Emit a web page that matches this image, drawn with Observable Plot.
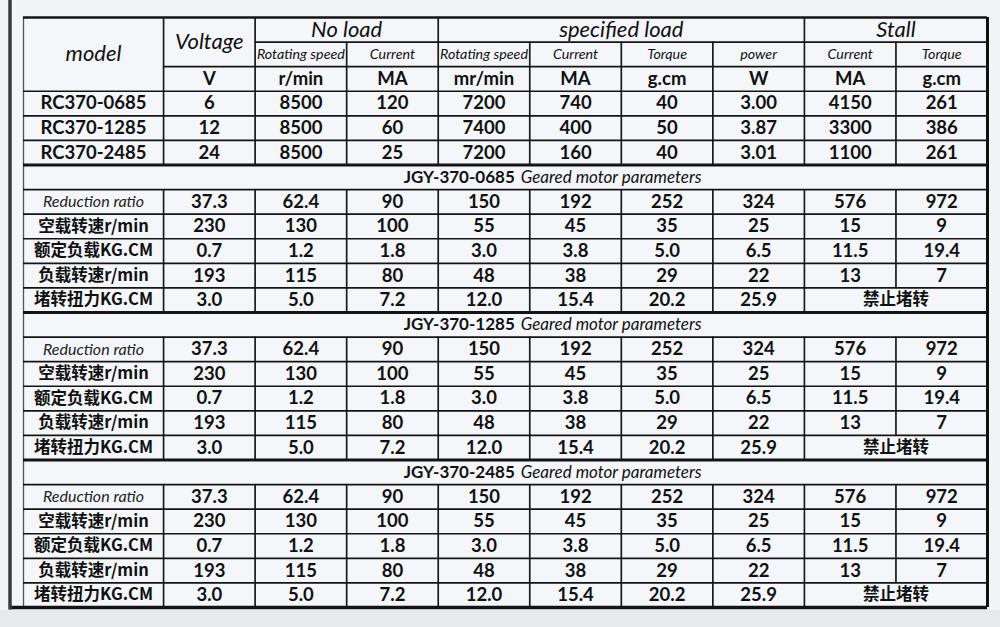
<!DOCTYPE html>
<html><head><meta charset="utf-8">
<script src="https://cdn.jsdelivr.net/npm/d3@7"></script>
<script src="https://cdn.jsdelivr.net/npm/@observablehq/plot@0.6"></script>
<style>
html,body{margin:0;padding:0;background:#f2f4f6;}
#chart svg{display:block}
</style></head><body><div id="chart"></div>
<script>
// ---- data ----
const groupHeaders = ["No load", "specified load", "Stall"];
const subHeaders = ["Rotating speed","Current","Rotating speed","Current","Torque","power","Current","Torque"];
const units = ["V","r/min","MA","mr/min","MA","g.cm","W","MA","g.cm"];
const models = ["RC370-0685","RC370-1285","RC370-2485"];
const voltage = ["6","12","24"];
const noLoadSpeed = ["8500","8500","8500"];
const noLoadCurrent = ["120","60","25"];
const loadSpeed = ["7200","7400","7200"];
const loadCurrent = ["740","400","160"];
const loadTorque = ["40","50","40"];
const loadPower = ["3.00","3.87","3.01"];
const stallCurrent = ["4150","3300","1100"];
const stallTorque = ["261","386","261"];

const gearedModels = ["JGY-370-0685","JGY-370-1285","JGY-370-2485"];
const gearedSuffix = "Geared motor parameters";
const paramLabels = ["Reduction ratio","空载转速r/min","额定负载KG.CM","负载转速r/min","堵转扭力KG.CM"];
const reductionRatio = ["37.3","62.4","90","150","192","252","324","576","972"];
const noLoadRpm = ["230","130","100","55","45","35","25","15","9"];
const ratedLoad = ["0.7","1.2","1.8","3.0","3.8","5.0","6.5","11.5","19.4"];
const loadRpm = ["193","115","80","48","38","29","22","13","7"];
const stallTorqueKg = ["3.0","5.0","7.2","12.0","15.4","20.2","25.9"];
const stallForbidden = "禁止堵转";

// ---- layout structure ----
const colWeights = [1.53,1,1,1,1,1,1,1,1,1];
const edges = [0];
colWeights.forEach(w => edges.push(edges[edges.length-1] + w));
const total = edges[edges.length-1];
const nRows = 24;
const mid = (a,b) => (edges[a] + edges[b]) / 2;
const W = 1000, H = 627, mL = 23, mR = 13, mT = 17, mB = 20;
const unitPx = (W - mL - mR) / total;

const texts = [];
const T = (x, y, t, k) => texts.push({x, y, t, k});

// header
T(mid(0,1), 1.5, "model", "big");
T(mid(1,2), 1.0, "Voltage", "big");
const groupSpans = [[2,4],[4,8],[8,10]];
groupHeaders.forEach((g,i) => T(mid(groupSpans[i][0], groupSpans[i][1]), 0.5, g, "big"));
subHeaders.forEach((s,i) => T(mid(i+2,i+3), 1.5, s, "small"));
units.forEach((u,i) => T(mid(i+1,i+2), 2.5, u, "val"));

const motorCols = [voltage,noLoadSpeed,noLoadCurrent,loadSpeed,loadCurrent,loadTorque,loadPower,stallCurrent,stallTorque];
models.forEach((m,r) => {
  T(mid(0,1), 3.5 + r, m, "val");
  motorCols.forEach((col,c) => T(mid(c+1,c+2), 3.5 + r, col[r], "val"));
});

const gearRows = [reductionRatio, noLoadRpm, ratedLoad, loadRpm, stallTorqueKg];
gearedModels.forEach((g,s) => {
  const r0 = 6 + 6*s;
  T(edges[5], r0 + 0.5, g, "titleBold");
  T(edges[5], r0 + 0.5, gearedSuffix, "titleItal");
  paramLabels.forEach((lab,j) => {
    T(mid(0,1), r0 + 1.5 + j, lab, j === 0 ? "param" : "cjk");
    gearRows[j].forEach((v,c) => T(mid(c+1,c+2), r0 + 1.5 + j, v, "val"));
  });
  T(mid(8,10), r0 + 5.5, stallForbidden, "cjk");
});

// lines
const hLines = [];
const vLines = [];
const thick = 3, thin = 1.7;
hLines.push({y:0, x1:0, x2:total, w:2.6});
hLines.push({y:1, x1:edges[2], x2:total, w:thin});
hLines.push({y:2, x1:edges[1], x2:total, w:thin});
[3,4,5].forEach(y => hLines.push({y, x1:0, x2:total, w:thin}));
for (let s = 0; s < 3; s++) {
  const r0 = 6 + 6*s;
  hLines.push({y:r0, x1:0, x2:total, w:thick});
  for (let j = 1; j <= 5; j++) hLines.push({y:r0 + j, x1:0, x2:total, w:thin});
}
hLines.push({y:nRows, x1:-14/unitPx, x2:total, w:thick+0.5});

vLines.push({x:0, y1:0, y2:nRows, w:1.3, c:"#555"});
vLines.push({x:total, y1:0, y2:nRows, w:thick, c:"#111"});
[1,2,4,8].forEach(e => vLines.push({x:edges[e], y1:0, y2:6, w:thin, c:"#1a1a1a"}));
[3,5,6,7,9].forEach(e => vLines.push({x:edges[e], y1:1, y2:6, w:thin, c:"#1a1a1a"}));
for (let s = 0; s < 3; s++) {
  const r0 = 6 + 6*s;
  for (let e = 1; e <= 8; e++) vLines.push({x:edges[e], y1:r0+1, y2:r0+6, w:thin, c:"#1a1a1a"});
  vLines.push({x:edges[9], y1:r0+1, y2:r0+5, w:thin, c:"#1a1a1a"});
}

const LAT = "Lato, 'Noto Sans CJK SC', sans-serif";
const CJK = "'Noto Sans CJK SC', Lato, sans-serif";
const txt = (k, opts) => Plot.text(texts.filter(d => d.k === k), {x:"x", y:"y", text:"t", fill:"#111", fontFamily:LAT, ...opts});

const chart = Plot.plot({
  width: W, height: H,
  marginLeft: mL, marginRight: mR, marginTop: mT, marginBottom: mB,
  x: {domain:[0,total], axis:null},
  y: {domain:[0,nRows], reverse:true, axis:null},
  style: {background:"#f2f4f6", overflow:"visible"},
  marks: [
    Plot.rect([0], {x1: -1, x2: total + 1, y1: nRows + 0.12, y2: nRows + 1, fill:"#e7e9ec"}),
    Plot.frame({fill:"#f4f6f9", stroke:null, insetLeft:-12}),
    Plot.ruleX(vLines, {x:"x", y1:"y1", y2:"y2", strokeWidth:"w", stroke:"c"}),
    Plot.ruleY(hLines, {y:"y", x1:"x1", x2:"x2", strokeWidth:"w", stroke:"#141414"}),
    Plot.ruleX([0], {y1: -mT/ ((H-mT-mB)/nRows), y2: nRows + 0.1, dx:-13.5, stroke:"#3a3a3a", strokeWidth:3.5}),
    txt("big", {fontSize:22, fontStyle:"italic"}),
    txt("small", {fontSize:14.3, fontStyle:"italic"}),
    txt("val", {fontSize:18.5, fontWeight:"bold"}),
    txt("param", {fontSize:16, fontStyle:"italic", fill:"#222"}),
    txt("cjk", {fontSize:16.5, fontWeight:"bold", fontFamily:CJK}),
    txt("titleBold", {fontSize:17, fontWeight:"bold", textAnchor:"end", dx:-15}),
    txt("titleItal", {fontSize:17, fontStyle:"italic", textAnchor:"start", dx:-9})
  ]
});
document.getElementById("chart").appendChild(chart);
</script>
</body></html>
